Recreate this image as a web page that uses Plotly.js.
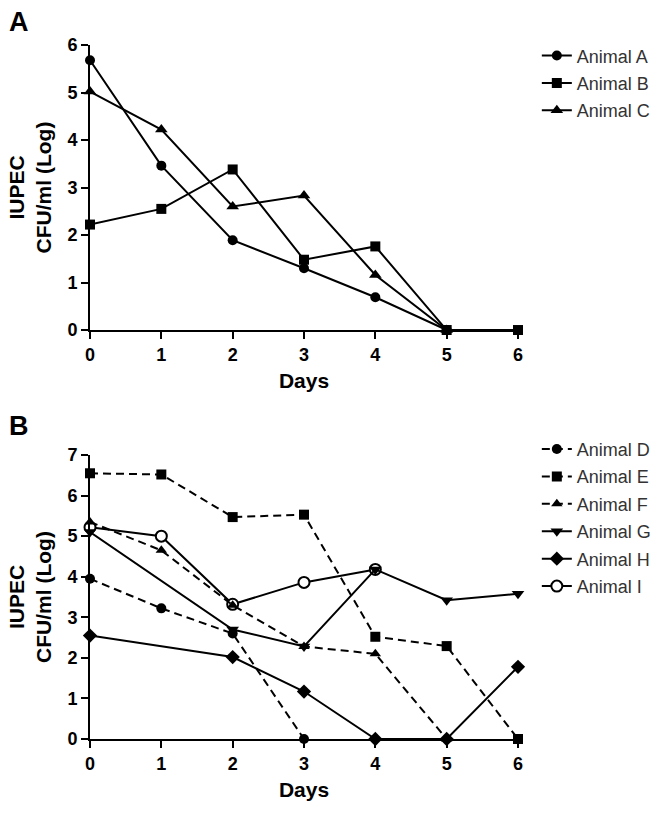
<!DOCTYPE html>
<html>
<head>
<meta charset="utf-8">
<script src="https://cdn.plot.ly/plotly-3.0.1.min.js"></script>
<style>html,body{margin:0;padding:0;background:#fff;}</style>
</head>
<body>
<div id="chart" style="width:664px;height:815px;"></div>
<script>
// Panel A data
const daysA = [0, 1, 2, 3, 4, 5, 6];
const animalA = [5.68, 3.46, 1.89, 1.30, 0.69, 0];
const animalB = [2.22, 2.55, 3.38, 1.48, 1.76, 0, 0];
const animalC = [5.02, 4.22, 2.60, 2.83, 1.16, 0];

// Panel B data
const daysD = [0, 1, 2, 3];
const animalD = [3.95, 3.22, 2.60, 0];
const daysE = [0, 1, 2, 3, 4, 5, 6];
const animalE = [6.55, 6.52, 5.47, 5.53, 2.52, 2.29, 0];
const daysF = [0, 1, 2, 3, 4, 5];
const animalF = [5.35, 4.65, 3.30, 2.28, 2.10, 0];
const daysG = [0, 2, 3, 4, 5, 6];
const animalG = [5.10, 2.70, 2.28, 4.18, 3.42, 3.58];
const daysH = [0, 2, 3, 4, 5, 6];
const animalH = [2.55, 2.02, 1.17, 0, 0, 1.78];
const daysI = [0, 1, 2, 3, 4];
const animalI = [5.22, 5.00, 3.32, 3.86, 4.18];

const tickDays = [0, 1, 2, 3, 4, 5, 6];
const ticksA = [0, 1, 2, 3, 4, 5, 6];
const ticksB = [0, 1, 2, 3, 4, 5, 6, 7];

const FONT = 'Liberation Sans, Arial, Helvetica, sans-serif';
const DASH = '8px,5px';

function tr(name, rank, x, y, symbol, dash, xa, ya, leg, size, open) {
  return {
    type: 'scatter', mode: 'lines+markers', name: name,
    x: x, y: y, xaxis: xa, yaxis: ya, legend: leg,
    legendgroup: name, legendrank: rank,
    cliponaxis: false,
    line: {color: '#000', width: 2, dash: dash},
    marker: {symbol: symbol, size: size, color: open ? '#fff' : '#000',
             line: {color: '#000', width: open ? 2 : 0}}
  };
}

const data = [
  tr('Animal A', 1, daysA.slice(0, animalA.length), animalA, 'circle', 'solid', 'x', 'y', 'legend', 10),
  tr('Animal B', 2, daysA.slice(0, animalB.length), animalB, 'square', 'solid', 'x', 'y', 'legend', 10),
  tr('Animal C', 3, daysA.slice(0, animalC.length), animalC, 'triangle-up', 'solid', 'x', 'y', 'legend', 11),
  tr('Animal I', 9, daysI, animalI, 'circle', 'solid', 'x2', 'y2', 'legend2', 11, true),
  tr('Animal D', 4, daysD, animalD, 'circle', DASH, 'x2', 'y2', 'legend2', 10),
  tr('Animal E', 5, daysE, animalE, 'square', DASH, 'x2', 'y2', 'legend2', 10),
  tr('Animal F', 6, daysF, animalF, 'triangle-up', DASH, 'x2', 'y2', 'legend2', 10),
  tr('Animal G', 7, daysG, animalG, 'triangle-down', 'solid', 'x2', 'y2', 'legend2', 11),
  tr('Animal H', 8, daysH, animalH, 'diamond', 'solid', 'x2', 'y2', 'legend2', 11)
];

function xax(anchor) {
  return {
    anchor: anchor, domain: [0, 1], range: [0, 6], tickvals: tickDays,
    showline: true, linewidth: 2, linecolor: '#000',
    ticks: 'outside', ticklen: 7, tickwidth: 2, tickcolor: '#000',
    showgrid: false, zeroline: false,
    tickfont: {family: FONT, size: 18, color: '#000', weight: 'bold'},
    title: {text: 'Days', standoff: 10, font: {family: FONT, size: 21, color: '#000', weight: 'bold'}}
  };
}
function yax(anchor, domain, maxv, ticks) {
  return {
    anchor: anchor, domain: domain, range: [0, maxv], tickvals: ticks,
    showline: true, linewidth: 2, linecolor: '#000',
    ticks: 'outside', ticklen: 7, tickwidth: 2, tickcolor: '#000',
    showgrid: false, zeroline: false,
    tickfont: {family: FONT, size: 18, color: '#000', weight: 'bold'},
    title: {text: 'IUPEC<br>CFU/ml (Log)', standoff: 10, font: {family: FONT, size: 21, color: '#000', weight: 'bold'}}
  };
}

const legendStyle = {
  xref: 'paper', yref: 'paper', xanchor: 'left', yanchor: 'top',
  bgcolor: 'rgba(0,0,0,0)', borderwidth: 0,
  font: {family: FONT, size: 18, color: '#333'},
  itemwidth: 30, tracegroupgap: 1, itemclick: false
};

const layout = {
  width: 664, height: 815,
  margin: {l: 90, r: 146, t: 45, b: 76, autoexpand: false},
  paper_bgcolor: '#fff', plot_bgcolor: '#fff',
  font: {family: FONT, color: '#000'},
  showlegend: true,
  xaxis: xax('y'),
  yaxis: yax('x', [0.5893, 1], 6, ticksA),
  xaxis2: xax('y2'),
  yaxis2: yax('x2', [0, 0.4092], 7, ticksB),
  legend: Object.assign({}, legendStyle, {x: 1.044, y: 1.011}),
  legend2: Object.assign({}, legendStyle, {x: 1.044, y: 0.444}),
  annotations: [
    {text: '<b>A</b>', xref: 'paper', yref: 'paper', x: -0.195, y: 1.033,
     xanchor: 'left', yanchor: 'middle', showarrow: false,
     font: {family: FONT, size: 27, color: '#000'}},
    {text: '<b>B</b>', xref: 'paper', yref: 'paper', x: -0.195, y: 0.451,
     xanchor: 'left', yanchor: 'middle', showarrow: false,
     font: {family: FONT, size: 27, color: '#000'}}
  ]
};

Plotly.newPlot('chart', data, layout, {staticPlot: true, displayModeBar: false});
</script>
</body>
</html>
